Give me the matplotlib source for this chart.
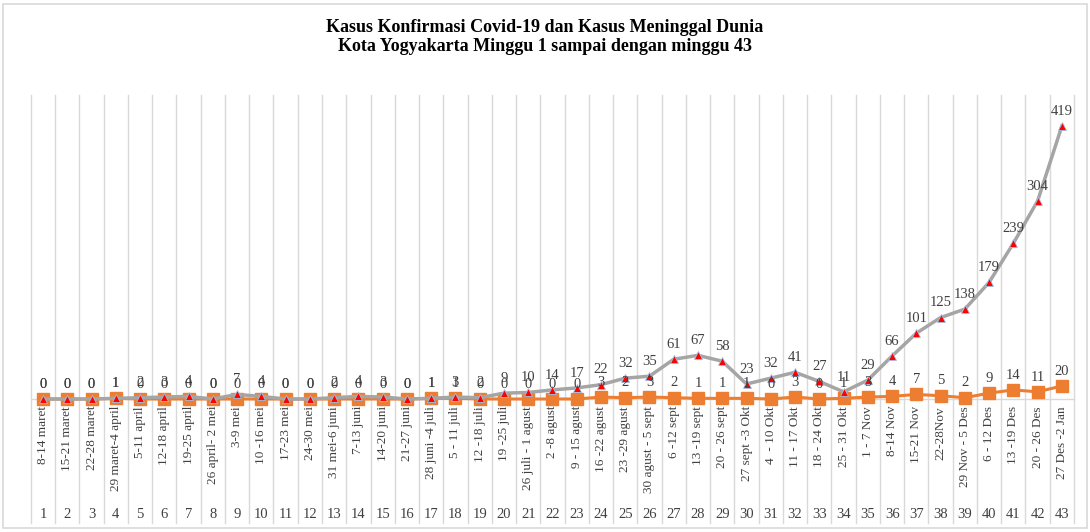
import matplotlib
matplotlib.use("Agg")
import matplotlib.pyplot as plt
from matplotlib.patches import Rectangle
import matplotlib.transforms as mtransforms

weeks = list(range(1, 44))
periods = ["8-14 maret", "15-21 maret", "22-28 maret", "29 maret-4 april", "5-11 april",
           "12-18 april", "19-25 april", "26 april- 2 mei", "3-9 mei", "10 -16 mei",
           "17-23 mei", "24-30 mei", "31 mei-6 juni", "7-13 juni", "14-20 juni",
           "21-27 juni", "28 juni -4 juli", "5 - 11 juli", "12 -18 juli", "19 -25 juli",
           "26 juli - 1 agust", "2 -8 agust", "9 - 15 agust", "16 -22 agust", "23 -29 agust",
           "30 agust - 5 sept", "6 -12 sept", "13 -19 sept", "20 - 26 sept", "27 sept -3 Okt",
           "4  - 10 Okt", "11 - 17 Okt", "18 - 24 Okt", "25 - 31 Okt", "1 - 7 Nov",
           "8-14 Nov", "15-21 Nov", "22-28Nov", "29 Nov - 5 Des", "6 - 12 Des",
           "13 -19 Des", "20 - 26 Des", "27 Des -2 Jan"]
konfirmasi = [0, 0, 0, 1, 2, 3, 4, 0, 7, 4, 0, 0, 2, 4, 3, 0, 1, 3, 2, 9,
              10, 14, 17, 22, 32, 35, 61, 67, 58, 23, 32, 41, 27, 11, 29, 66, 101, 125, 138, 179,
              239, 304, 419]
meninggal = [0, 0, 0, 1, 0, 0, 0, 0, 0, 0, 0, 0, 0, 0, 0, 0, 1, 1, 0, 0,
             0, 0, 0, 3, 2, 3, 2, 1, 1, 1, 0, 3, 0, 1, 3, 4, 7, 5, 2, 9,
             14, 11, 20]

title = "Kasus Konfirmasi Covid-19 dan Kasus Meninggal Dunia\nKota Yogyakarta Minggu 1 sampai dengan minggu 43"

W, H = 1090, 532
fig = plt.figure(figsize=(W / 100, H / 100), dpi=100)
fig.patch.set_facecolor("white")
fig.patches.append(Rectangle((3 / W, 4 / H), (W - 6) / W, (H - 8) / H, transform=fig.transFigure,
                             fill=False, edgecolor="#D9D9D9", linewidth=1.2))

y0, y1 = 399, 100
ax = fig.add_axes([30.9 / W, (H - y0) / H, (1074 - 30.9) / W, (y0 - y1) / H])
ax.set_xlim(0.5, 43.5)
ax.set_ylim(0, 459)
ax.axis("off")

trans = mtransforms.blended_transform_factory(ax.transData, ax.transAxes)
bottom_ax = (y0 - 523) / (y0 - y1)
top_ax = (y0 - 95) / (y0 - y1)
for b in range(0, 44):
    ax.plot([b + 0.5, b + 0.5], [bottom_ax, top_ax], transform=trans, color="#D9D9D9",
            linewidth=1.0, clip_on=False, zorder=0)
ax.plot([0.5, 43.5], [0, 0], color="#D9D9D9", linewidth=1.0, clip_on=False, zorder=1)

ax.plot(weeks, meninggal, color="#ED7D31", linewidth=2.2, marker="s", markersize=8,
        markerfacecolor="#ED7D31", markeredgecolor="#ED7D31", clip_on=False, zorder=3)
ax.plot(weeks, konfirmasi, color="#A5A5A5", linewidth=2.5, marker="^", markersize=6,
        markerfacecolor="#FF0000", markeredgecolor="#9DC3E6", markeredgewidth=0.6,
        clip_on=False, zorder=4)

lab_font = dict(family="Liberation Serif", fontsize=10.5, color="#404040")
for w, v in zip(weeks, meninggal):
    ax.annotate(str(v), (w, v), xytext=(0, 6), textcoords="offset points",
                ha="center", va="bottom", zorder=5, **lab_font)
for w, v in zip(weeks, konfirmasi):
    ax.annotate(str(v), (w, v), xytext=(0, 6), textcoords="offset points",
                ha="center", va="bottom", zorder=5, **lab_font)

for w, p in zip(weeks, periods):
    ax.text(w, (y0 - 406) / (y0 - y1), p, transform=trans, rotation=90, ha="center", va="top",
            family="Liberation Serif", fontsize=9.5, color="#404040")
    ax.text(w, (y0 - 515) / (y0 - y1), str(w), transform=trans, ha="center", va="center",
            family="Liberation Serif", fontsize=10.5, color="#404040")

fig.text(0.5, 1 - 37 / H, title, ha="center", va="center", family="Liberation Serif",
         fontweight="bold", fontsize=13, linespacing=1.15, color="#000000")

fig.savefig("out.png", dpi=100, facecolor="white")
